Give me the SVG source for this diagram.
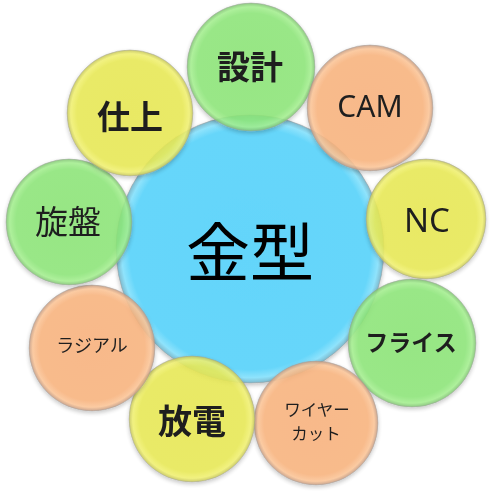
<svg xmlns="http://www.w3.org/2000/svg" width="495" height="493" viewBox="0 0 495 493">
<defs>
<radialGradient id="gBlue" cx="50%" cy="50%" r="50%">
<stop offset="0%" stop-color="#64D5FA"/>
<stop offset="90%" stop-color="#66D6FA"/>
<stop offset="96%" stop-color="#8FE3FC"/>
<stop offset="100%" stop-color="#7FB9CC"/>
</radialGradient>
<radialGradient id="gGreen" cx="50%" cy="50%" r="50%">
<stop offset="0%" stop-color="#89E374"/>
<stop offset="84%" stop-color="#8BE477"/>
<stop offset="94%" stop-color="#A3EE8E"/>
<stop offset="100%" stop-color="#80C272"/>
</radialGradient>
<radialGradient id="gYellow" cx="50%" cy="50%" r="50%">
<stop offset="0%" stop-color="#E6E750"/>
<stop offset="84%" stop-color="#E7E852"/>
<stop offset="94%" stop-color="#F0F070"/>
<stop offset="100%" stop-color="#C4C458"/>
</radialGradient>
<radialGradient id="gOrange" cx="50%" cy="50%" r="50%">
<stop offset="0%" stop-color="#F8B07A"/>
<stop offset="84%" stop-color="#F8B27C"/>
<stop offset="94%" stop-color="#FBC496"/>
<stop offset="100%" stop-color="#C49A80"/>
</radialGradient>
<filter id="sh" x="-20%" y="-20%" width="140%" height="150%">
<feDropShadow dx="0" dy="2" stdDeviation="2" flood-color="#000" flood-opacity="0.25"/>
</filter>
</defs>
<style>
.c{filter:url(#sh);stroke:#9a9a9a;stroke-opacity:0.5;stroke-width:1}
.sat{opacity:0.88}
.g{fill:url(#gGreen)}
.y{fill:url(#gYellow)}
.o{fill:url(#gOrange)}
.t{font-family:"Noto Sans CJK JP","Noto Sans",sans-serif;fill:#000;text-anchor:middle;dominant-baseline:central}
.b{font-weight:bold}
.l{font-family:"Noto Sans","Noto Sans CJK JP",sans-serif;fill:#000;text-anchor:middle}
</style>
<g id="node-kanagata">
<circle class="c" cx="250" cy="249" r="134" fill="url(#gBlue)"/>
<text class="t" x="250" y="248" font-size="64">金型</text>
</g>
<g id="connectors"></g>
<g id="node-sekkei" class="sat">
<circle class="c g" cx="251" cy="67" r="64"/>
<text class="t b" x="250" y="65" font-size="33">設計</text>
</g>
<g id="node-cam" class="sat">
<circle class="c o" cx="370" cy="108" r="63"/>
<text class="l" x="370" y="117" font-size="30">CAM</text>
</g>
<g id="node-nc" class="sat">
<circle class="c y" cx="426" cy="219" r="60"/>
<text class="l" x="427" y="232" font-size="33">NC</text>
</g>
<g id="node-furaisu" class="sat">
<circle class="c g" cx="412" cy="343" r="64"/>
<text class="t b" x="411" y="341" font-size="23">フライス</text>
</g>
<g id="node-wire" class="sat">
<circle class="c o" cx="316" cy="423" r="62"/>
<text class="t" x="317" y="408.5" font-size="16.5">ワイヤー</text>
<text class="t" x="316" y="433" font-size="16.5">カット</text>
</g>
<g id="node-houden" class="sat">
<circle class="c y" cx="192" cy="419" r="63"/>
<text class="t b" x="192" y="419" font-size="34">放電</text>
</g>
<g id="node-radial" class="sat">
<circle class="c o" cx="92" cy="348" r="63"/>
<text class="t" x="92" y="344" font-size="18">ラジアル</text>
</g>
<g id="node-senban" class="sat">
<circle class="c g" cx="69" cy="222" r="63"/>
<text class="t" x="68" y="220" font-size="33">旋盤</text>
</g>
<g id="node-shiage" class="sat">
<circle class="c y" cx="130" cy="113" r="63"/>
<text class="t b" x="130" y="115" font-size="33">仕上</text>
</g>
</svg>
